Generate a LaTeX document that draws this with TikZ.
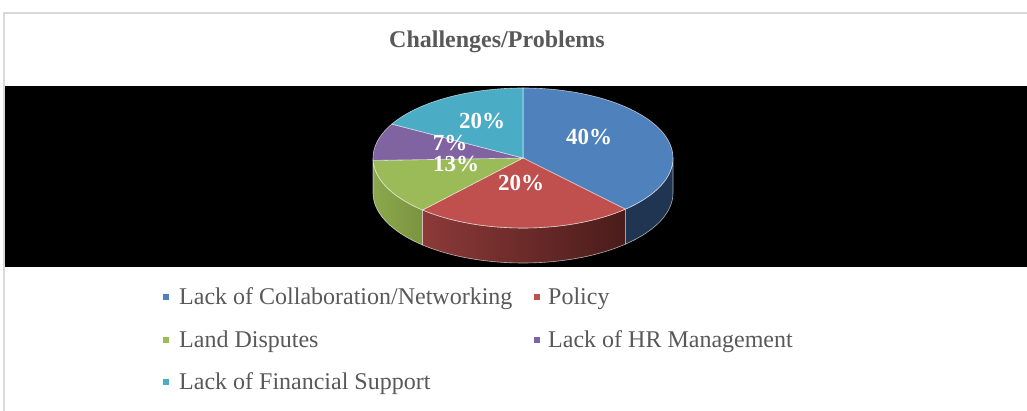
\documentclass[tikz,border=0pt]{standalone}
\usepackage{fontspec}
\setmainfont{Liberation Serif}
\begin{document}
\begin{tikzpicture}[x=1pt,y=1pt]
\definecolor{framegray}{HTML}{D9D9D9}
\definecolor{txtgray}{HTML}{595959}
\definecolor{cblue}{HTML}{4F81BD}
\definecolor{cred}{HTML}{C0504D}
\definecolor{cgreen}{HTML}{9BBB59}
\definecolor{cpurple}{HTML}{8064A2}
\definecolor{ccyan}{HTML}{4BACC6}
\definecolor{sblue}{HTML}{1F3552}
\definecolor{sredL}{HTML}{8C3A38}
\definecolor{sredR}{HTML}{4A1C1B}
\definecolor{sgreenL}{HTML}{8CA84E}
\definecolor{sgreenR}{HTML}{7A943F}
\tikzset{
  rim/.style={draw=white, draw opacity=0.65, line width=0.6pt},
  pct/.style={text=white, font=\bfseries\fontsize{23}{23}\selectfont, inner sep=0pt, anchor=base},
  legtxt/.style={text=txtgray, font=\fontsize{24}{24}\selectfont, inner sep=0pt, anchor=base west},
  legmark/.style={minimum size=6pt, inner sep=0pt, draw=none}
}
\def\cx{523}\def\cy{253}\def\rx{150}\def\ry{70}\def\dep{35}
\useasboundingbox (0,0) rectangle (1027,411);
\clip (0,0) rectangle (1027,411);
\fill[white] (0,0) rectangle (1027,411);
\draw[framegray, line width=1.2pt] (4,-5) -- (4,398) -- (1040,398);
\fill[black] (5,144) rectangle (1027,325);
% title
\node[text=txtgray, font=\bfseries\fontsize{24}{24}\selectfont, inner sep=0pt, anchor=base] (title) at (497,363) {Challenges/Problems};
% sides
\path[fill=sblue, rim] ({\cx+\rx*cos(0)},{\cy+\ry*sin(0)}) arc[start angle=0, end angle=-47, x radius=\rx, y radius=\ry] -- ++(0,-\dep) arc[start angle=-47, end angle=0, x radius=\rx, y radius=\ry] -- cycle;
\path[left color=sredL, right color=sredR, rim] ({\cx+\rx*cos(-47)},{\cy+\ry*sin(-47)}) arc[start angle=-47, end angle=-132, x radius=\rx, y radius=\ry] -- ++(0,-\dep) arc[start angle=-132, end angle=-47, x radius=\rx, y radius=\ry] -- cycle;
\path[left color=sgreenL, right color=sgreenR, rim] ({\cx+\rx*cos(-132)},{\cy+\ry*sin(-132)}) arc[start angle=-132, end angle=-180, x radius=\rx, y radius=\ry] -- ++(0,-\dep) arc[start angle=-180, end angle=-132, x radius=\rx, y radius=\ry] -- cycle;
% top face
\coordinate (c) at (\cx,\cy);
\path[fill=cblue, rim] (c) -- ({\cx+\rx*cos(90)},{\cy+\ry*sin(90)}) arc[start angle=90, end angle=-47, x radius=\rx, y radius=\ry] -- cycle;
\path[fill=cred, rim] (c) -- ({\cx+\rx*cos(-47)},{\cy+\ry*sin(-47)}) arc[start angle=-47, end angle=-132, x radius=\rx, y radius=\ry] -- cycle;
\path[fill=cgreen, rim] (c) -- ({\cx+\rx*cos(-132)},{\cy+\ry*sin(-132)}) arc[start angle=-132, end angle=-178, x radius=\rx, y radius=\ry] -- cycle;
\path[fill=cpurple, rim] (c) -- ({\cx+\rx*cos(182)},{\cy+\ry*sin(182)}) arc[start angle=182, end angle=151, x radius=\rx, y radius=\ry] -- cycle;
\path[fill=ccyan, rim] (c) -- ({\cx+\rx*cos(151)},{\cy+\ry*sin(151)}) arc[start angle=151, end angle=90, x radius=\rx, y radius=\ry] -- cycle;
% percentages
\node[pct] (p1) at (589,266) {40\%};
\node[pct] (p2) at (521,220) {20\%};
\node[pct] (p3) at (456,239) {13\%};
\node[pct] (p4) at (450,260) {7\%};
\node[pct] (p5) at (482,282) {20\%};
% legend
\node[legmark, fill=cblue] (m1) at (166,114) {};
\node[legtxt] (l1) at (179,106) {Lack of Collaboration/Networking};
\node[legmark, fill=cred] (m2) at (537,114) {};
\node[legtxt] (l2) at (548,106) {Policy};
\node[legmark, fill=cgreen] (m3) at (166,71) {};
\node[legtxt] (l3) at (179,63) {Land Disputes};
\node[legmark, fill=cpurple] (m4) at (537,71) {};
\node[legtxt] (l4) at (548,63) {Lack of HR Management};
\node[legmark, fill=ccyan] (m5) at (166,29) {};
\node[legtxt] (l5) at (179,21) {Lack of Financial Support};
\end{tikzpicture}
\end{document}
